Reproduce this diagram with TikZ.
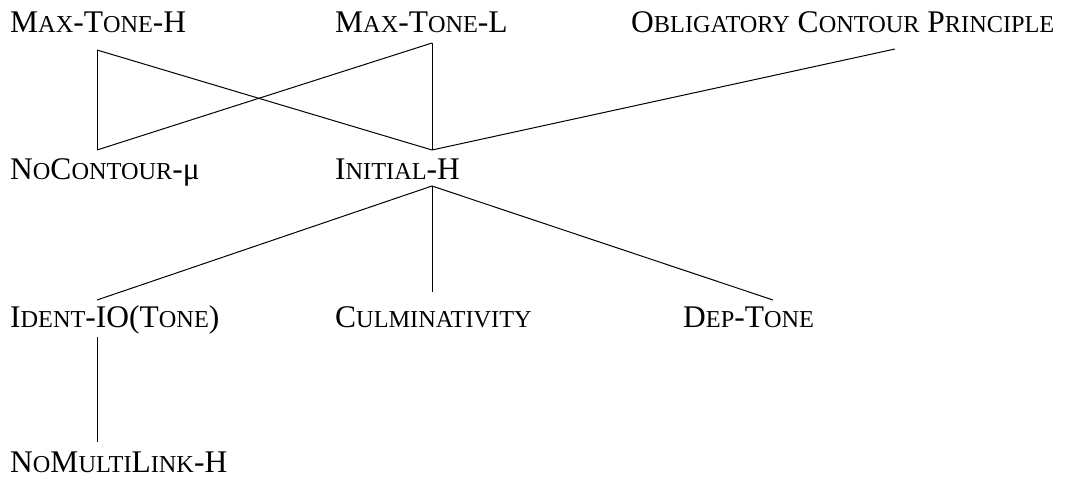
\documentclass[tikz,border=0pt]{standalone}
\usepackage{fontspec}
\setmainfont{Liberation Serif}
\newcommand\smc[1]{{\fontsize{24.3}{24.3}\selectfont #1}}

\begin{document}
\begin{tikzpicture}[x=1pt, y=-1pt,
	con/.style = {font=\fontsize{31.5}{36}\selectfont, inner sep=0pt, anchor=base west,
		text height=20pt, text depth=0pt, outer ysep=10pt},
	rank/.style = {line width=1pt}]
		\useasboundingbox (0,0) rectangle (1081,481);
		\coordinate (colA) at (97,0);
		\coordinate (colB) at (432,0);
		\coordinate (colC) at (895,0);
		\coordinate (colD) at (773,0);
		% top stratum
		\node[con] (maxh) at (10,33) {M\smc{AX}-T\smc{ONE}-H};
		\node[con] (maxl) at (335,33) {M\smc{AX}-T\smc{ONE}-L};
		\node[con] (ocp) at (631,33) {O\smc{BLIGATORY} C\smc{ONTOUR} P\smc{RINCIPLE}};
		% second stratum
		\node[con] (nocont) at (10,180) {N\smc{O}C\smc{ONTOUR}-μ};
		\node[con] (inith) at (335,180) {I\smc{NITIAL}-H};
		% third stratum
		\node[con] (ident) at (10,327) {I\smc{DENT}-IO(T\smc{ONE})};
		\node[con] (culm) at (335,327) {C\smc{ULMINATIVITY}};
		\node[con] (dep) at (683,327) {D\smc{EP}-T\smc{ONE}};
		% bottom
		\node[con] (nomulti) at (10,472) {N\smc{O}M\smc{ULTI}L\smc{INK}-H};
		% rankings
		\draw[rank] ([yshift=-7pt]maxh.south -| colA) -- (nocont.north -| colA);
		\draw[rank] ([yshift=-7pt]maxh.south -| colA) -- (inith.north -| colB);
		\draw[rank] (maxl.south -| colB) -- (nocont.north -| colA);
		\draw[rank] (maxl.south -| colB) -- (inith.north -| colB);
		\draw[rank] ([yshift=-6pt]ocp.south -| colC) -- (inith.north -| colB);
		\draw[rank] ([yshift=4pt]inith.south -| colB) -- ([yshift=-3pt]ident.north -| colA);
		\draw[rank] ([yshift=4pt]inith.south -| colB) -- ([yshift=5pt]culm.north -| colB);
		\draw[rank] ([yshift=4pt]inith.south -| colB) -- ([yshift=-3pt]dep.north -| colD);
		\draw[rank] (ident.south -| colA) -- (nomulti.north -| colA);
\end{tikzpicture}
\end{document}
